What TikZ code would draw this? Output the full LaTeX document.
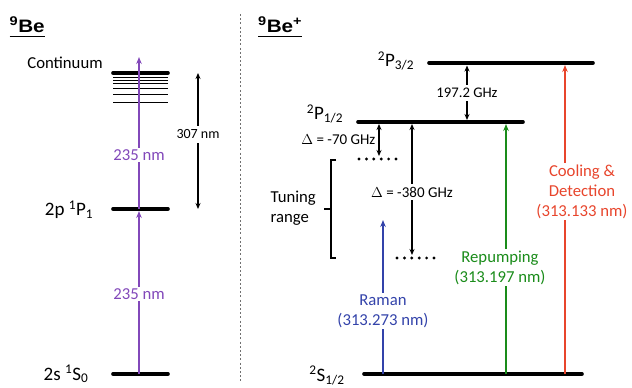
\documentclass[tikz,border=0pt]{standalone}
\usepackage{fontspec}
\setmainfont{Carlito}
\newfontfamily\headfont[FakeStretch=1.15]{Liberation Sans}
\usetikzlibrary{arrows.meta, positioning}
\definecolor{bepurple}{HTML}{8248BA}
\definecolor{beblue}{HTML}{3343AA}
\definecolor{begreen}{HTML}{1A8C1A}
\definecolor{bered}{HTML}{E8452C}
\definecolor{begray}{HTML}{707070}

\begin{document}
\begin{tikzpicture}[x=1pt, y=-1pt,
  lvl/.style={line width=3.6pt, line cap=round},
  thin/.style={line width=1pt},
  tr/.style={line width=1.4pt, -{Stealth[length=7pt, width=5.5pt]}},
  dbl/.style={line width=1.3pt, {Stealth[length=6pt, width=5pt]}-{Stealth[length=6pt, width=5pt]}},
  gap/.style={fill=white, inner sep=1.5pt, align=center, font=\fontsize{16.7}{20}\selectfont},
  small/.style={inner sep=1pt, font=\fontsize{15}{18}\selectfont},
  state/.style={inner sep=0pt, font=\fontsize{19}{23}\selectfont},
  title/.style={inner sep=0pt, font=\headfont\bfseries\fontsize{18}{21}\selectfont},
  dot/.style={fill, circle, inner sep=0pt, minimum size=3.2pt}
]
  \useasboundingbox (0,0) rectangle (632,388);

  % Titles
  \node[title, anchor=base west] (tbe) at (9.5,32) {\textsuperscript{9}Be};
  \node[title, anchor=base west] (tbi) at (258,32) {\textsuperscript{9}Be\textsuperscript{+}};
  \draw[line width=1.8pt] ([yshift=-4.5pt]tbe.base west) -- ([yshift=-4.5pt]tbe.base east);
  \draw[line width=1.8pt] ([yshift=-4.5pt]tbi.base west) -- ([yshift=-4.5pt]tbi.base east);

  % Separator
  \draw[begray, line width=1.2pt, dash pattern=on 2pt off 2.2pt] (240.7,14) -- (240.7,382);

  % 9Be levels
  \draw[lvl] (113,73) -- (168,73);
  \foreach \y in {77.5,80.5,83.3,88,94.3,102.7}
    \draw[thin] (113,\y) -- (168,\y);
  \draw[lvl] (113,209) -- (168,209);
  \draw[lvl] (113,374) -- (168,374);
  \node[gap, fill=none] (cont) at (65,62.5) {Continuum};
  \node[state] (p1) at (69,210) {2p \textsuperscript{1}P\textsubscript{1}};
  \node[state] (s0) at (66,374) {2s \textsuperscript{1}S\textsubscript{0}};

  % 9Be transitions
  \coordinate (a0) at (139,374);
  \coordinate (a1) at (139,211);
  \coordinate (a2) at (139,209);
  \coordinate (a3) at (139,57);
  \draw[tr, bepurple] (a0) -- node[gap, text=bepurple, pos=0.49] {235 nm} (a1);
  \draw[tr, bepurple] (a2) -- node[gap, text=bepurple, pos=0.355] {235 nm} (a3);
  \coordinate (ip) at (198,73);
  \coordinate (pp) at (198,209);
  \draw[dbl] (ip) -- node[gap, pos=0.45, inner sep=4pt, font=\fontsize{14}{16}\selectfont] {307 nm} (pp);

  % 9Be+ levels
  \draw[lvl] (429,63) -- (593,63);
  \draw[lvl] (358,122) -- (523,122);
  \draw[lvl] (364,374) -- (582,374);
  \node[state] (p32) at (396,61) {\textsuperscript{2}P\textsubscript{3/2}};
  \node[state] (p12) at (325,114) {\textsuperscript{2}P\textsubscript{1/2}};
  \node[state] (s12) at (327,375.5) {\textsuperscript{2}S\textsubscript{1/2}};

  % Fine structure and detunings
  \coordinate (fs1) at (467,65.5);
  \coordinate (fs2) at (467,120);
  \draw[dbl] (fs1) -- node[gap, font=\fontsize{14.7}{17}\selectfont, inner sep=3pt] {197.2 GHz} (fs2);
  \coordinate (d1) at (379,124);
  \coordinate (d2) at (379,156);
  \draw[dbl] (d1) -- node[small, left=2pt] {$\Delta$ = -70 GHz} (d2);
  \coordinate (d3) at (412,124);
  \coordinate (d4) at (412,255);
  \draw[dbl] (d3) -- node[gap, pos=0.52, font=\fontsize{15}{18}\selectfont, inner sep=3pt] {$\Delta$ = -380 GHz} (d4);
  \foreach \i in {0,...,5} {
    \node[dot] (ta\i) at (359+7.4*\i,159) {};
    \node[dot] (tb\i) at (397+7.4*\i,258) {};
  }

  % Tuning range
  \draw[line width=1.2pt] (336,160) -- (331,160) -- (331,258) -- (336,258);
  \draw[line width=1.2pt] (331,209) -- (324,209);
  \node[gap, fill=none, align=left, anchor=west] (tune) at (269,208) {Tuning\\range};

  % 9Be+ transitions
  \coordinate (ra0) at (383,374);
  \coordinate (ra1) at (383,220);
  \coordinate (rp0) at (506,374);
  \coordinate (rp1) at (506,124);
  \coordinate (cd0) at (565,374);
  \coordinate (cd1) at (565,65);
  \draw[tr, beblue] (ra0) -- node[gap, text=beblue, pos=0.41] {Raman\\(313.273 nm)} (ra1);
  \draw[tr, begreen] (rp0) -- node[gap, text=begreen, pos=0.425, xshift=-6pt] {Repumping\\(313.197 nm)} (rp1);
  \draw[tr, bered] (cd0) -- node[gap, text=bered, pos=0.59, xshift=17pt] {Cooling \&\\Detection\\(313.133 nm)} (cd1);
\end{tikzpicture}
\end{document}
